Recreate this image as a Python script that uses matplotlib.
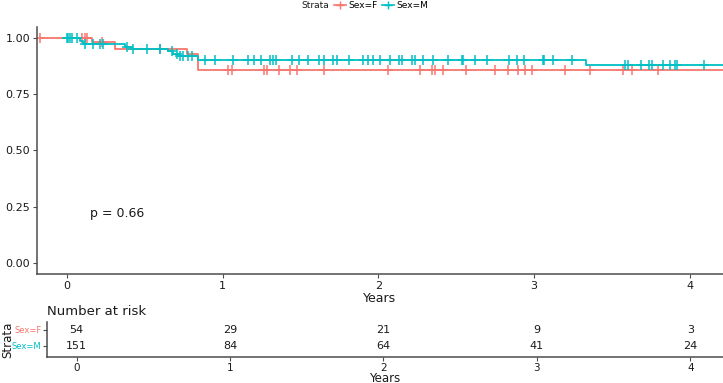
import numpy as np
import matplotlib
matplotlib.use("Agg")
import matplotlib.pyplot as plt
from matplotlib.lines import Line2D

# Kaplan-Meier steps (years, survival after the step)
f_time = [-0.175, 0.16, 0.31, 0.77, 0.84, 4.25]
f_surv = [1.0, 0.980, 0.950, 0.930, 0.858, 0.858]
m_time = [0.0, 0.083, 0.105, 0.372, 0.417, 0.649, 0.681, 0.719, 0.841, 3.33, 4.25]
m_surv = [1.0, 0.988, 0.973, 0.960, 0.951, 0.940, 0.930, 0.918, 0.902, 0.878, 0.878]

# censoring times
f_cens = [-0.173, 0.096, 0.116, 0.128, 0.225, 0.597, 1.036, 1.058, 1.265, 1.283,
          1.362, 1.432, 1.475, 1.651, 2.064, 2.267, 2.342, 2.364, 2.417, 2.563,
          2.749, 2.834, 2.899, 2.942, 2.985, 3.198, 3.359, 3.569, 3.627, 3.798]
m_cens = [0.0, 0.006, 0.019, 0.032, 0.064, 0.116, 0.167, 0.212, 0.231, 0.385,
          0.424, 0.514, 0.597, 0.674, 0.706, 0.726, 0.745, 0.777, 0.803, 0.886,
          0.951, 1.068, 1.161, 1.201, 1.244, 1.304, 1.325, 1.342, 1.443, 1.490,
          1.550, 1.620, 1.651, 1.706, 1.732, 1.813, 1.903, 1.935, 1.967, 2.010,
          2.075, 2.134, 2.152, 2.214, 2.235, 2.285, 2.353, 2.449, 2.535, 2.545,
          2.620, 2.699, 2.841, 2.888, 2.935, 3.055, 3.064, 3.119, 3.241, 3.584,
          3.605, 3.685, 3.740, 3.755, 3.830, 3.873, 3.905, 3.916, 4.091]

risk_times = [0, 1, 2, 3, 4]
risk_f = [54, 29, 21, 9, 3]
risk_m = [151, 84, 64, 41, 24]
strata = ["Sex=F", "Sex=M"]
colors = ["#F8766D", "#00BFC4"]
pval = "p = 0.66"

xlim = (-0.193, 4.213)
txt = "#1a1a1a"
spc = "#4d4d4d"

fig = plt.figure(figsize=(7.23, 3.83), dpi=100)
ax = fig.add_axes([37/723, 1 - 274/383, 1 - 37/723, (274 - 26.7)/383])


def surv_at(times, surv, t):
    idx = np.searchsorted(times, t, side="right") - 1
    idx = np.clip(idx, 0, len(surv) - 1)
    return np.array(surv)[idx]


for tt, ss, cc, col in [(f_time, f_surv, f_cens, colors[0]),
                        (m_time, m_surv, m_cens, colors[1])]:
    ax.step(tt, ss, where="post", color=col, lw=1.3)
    ax.plot(cc, surv_at(tt, ss, cc), ls="none", marker="+", ms=7, mew=1.1,
            color=col)

ax.set_xlim(*xlim)
ax.set_ylim(-0.05, 1.05)
ax.set_yticks([0, 0.25, 0.5, 0.75, 1.0])
ax.set_yticklabels(["0.00", "0.25", "0.50", "0.75", "1.00"])
ax.set_xticks(risk_times)
ax.set_xlabel("Years", fontsize=9, color=txt, labelpad=1)
for s in ["top", "right"]:
    ax.spines[s].set_visible(False)
for s in ["left", "bottom"]:
    ax.spines[s].set_color(spc)
    ax.spines[s].set_linewidth(1.1)
ax.tick_params(colors=spc, labelcolor=txt, labelsize=8, length=3, pad=2)
ax.text(0.15, 0.22, pval, fontsize=9, color=txt, ha="left", va="center")

# legend on top
fig.text(329/723, 1 - 6/383, "Strata", fontsize=6.5, color=txt, ha="right",
         va="center")
handles = [Line2D([], [], color=c, marker="+", ms=6, lw=1.2) for c in colors]
fig.legend(handles, strata, ncol=2, loc="center left", frameon=False,
           bbox_to_anchor=(334/723, 1 - 6/383), fontsize=6.5,
           handlelength=1.3, handletextpad=0.3, columnspacing=0.5,
           borderpad=0, borderaxespad=0)

# number at risk table
tab = fig.add_axes([47/723, 1 - 357/383, 1 - 47/723, 35/383])
tab.set_xlim(*xlim)
tab.set_ylim(-0.69, 1.5)
for x, a, b in zip(risk_times, risk_f, risk_m):
    tab.text(x, 1, str(a), ha="center", va="center", fontsize=8, color=txt)
    tab.text(x, 0, str(b), ha="center", va="center", fontsize=8, color=txt)
tab.set_yticks([1, 0])
tab.set_yticklabels(strata)
tab.set_xticks(risk_times)
tab.set_xlabel("Years", fontsize=8.5, color=txt)
tab.xaxis.set_label_coords(0.5, -21/35, transform=tab.transAxes)
tab.xaxis.label.set_va("center")
tab.set_ylabel("Strata", fontsize=8.5, color=txt)
tab.yaxis.set_label_coords(-39/676, 0.5)
tab.yaxis.label.set_va("center")
for s in ["top", "right"]:
    tab.spines[s].set_visible(False)
for s in ["left", "bottom"]:
    tab.spines[s].set_color(spc)
    tab.spines[s].set_linewidth(1.1)
tab.tick_params(colors=spc, length=3)
tab.tick_params(axis="x", labelcolor=txt, labelsize=7.5, pad=1)
tab.tick_params(axis="y", labelsize=6, pad=1)
for lbl, c in zip(tab.get_yticklabels(), colors):
    lbl.set_color(c)
tab.set_title("Number at risk", fontsize=9.5, loc="left", color=txt, pad=5)

fig.savefig("out.png", dpi=100)
